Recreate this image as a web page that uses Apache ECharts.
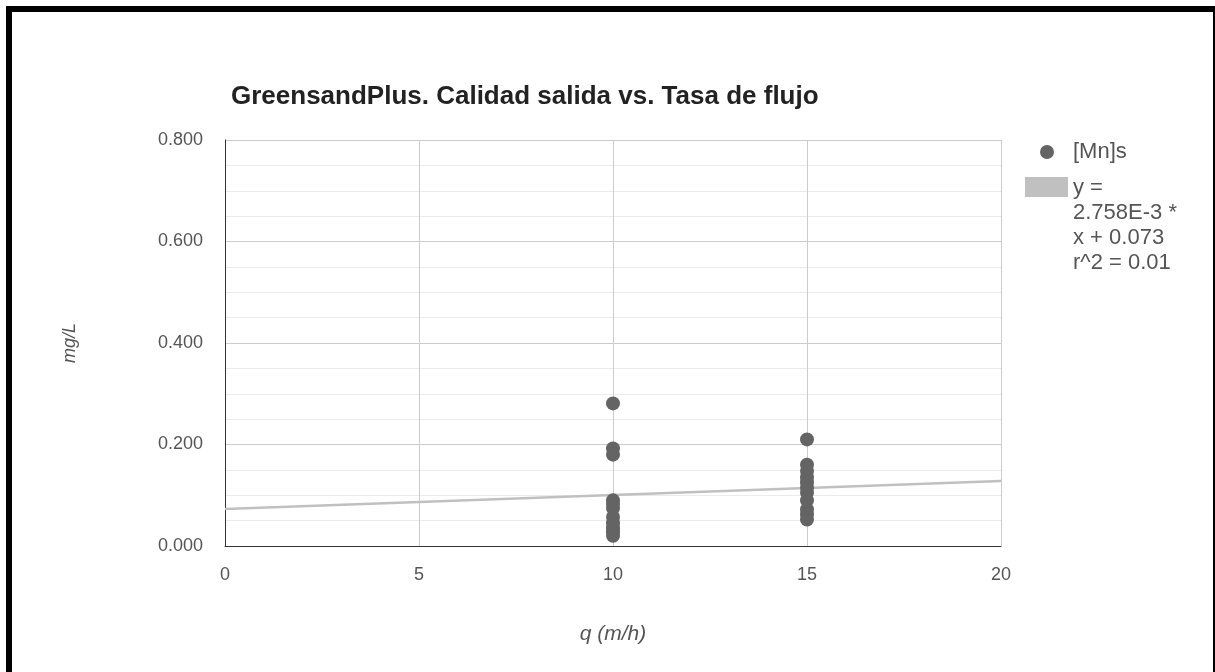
<!DOCTYPE html>
<html><head><meta charset="utf-8">
<script src="https://cdn.jsdelivr.net/npm/echarts@6/dist/echarts.min.js"></script>
<style>
html,body{margin:0;padding:0;background:#fff;}
#frame{position:absolute;left:6px;top:6px;width:1201px;height:700px;border-left:6px solid #000;border-top:6px solid #000;border-right:2px solid #000;}
#c{position:absolute;left:0;top:0;width:1215px;height:672px;}
</style></head>
<body>
<div id="frame"></div>
<div id="c"></div>
<script>
const chartTitle = 'GreensandPlus. Calidad salida vs. Tasa de flujo';
const xName = 'q (m/h)';
const yName = 'mg/L';
const seriesName = '[Mn]s';
const trendName = 'y = 2.758E-3 * x + 0.073 r^2 = 0.01';
const trendLegendLines = ['y =', '2.758E-3 *', 'x + 0.073', 'r^2 = 0.01'];
const xFlow = [10,10,10,10,10,10,10,10,10,10,10, 15,15,15,15,15,15,15,15,15,15,15];
const yMn = [0.281,0.192,0.180,0.090,0.083,0.075,0.057,0.045,0.035,0.027,0.020,
             0.210,0.160,0.148,0.135,0.125,0.115,0.105,0.090,0.072,0.062,0.052];
const trendX = [0, 20];
const trendY = [0.073, 0.128];
const yTicks = ['0.000','0.200','0.400','0.600','0.800'];

const chart = echarts.init(document.getElementById('c'));
const font = 'Arial, "Liberation Sans", sans-serif';
chart.setOption({
  animation: false,
  backgroundColor: 'transparent',
  title: {text: chartTitle, left: 226, top: 79,
    textStyle: {fontFamily: font, fontSize: 26, fontWeight: 'bold', color: '#222'}},
  grid: {left: 225, right: 214, top: 140, bottom: 126},
  xAxis: {type: 'value', min: 0, max: 20, interval: 5,
    name: xName, nameLocation: 'middle', nameGap: 78,
    nameTextStyle: {fontFamily: font, fontSize: 21, fontStyle: 'italic', color: '#555'},
    axisLine: {show: true, onZero: false, lineStyle: {color: '#333', width: 1}},
    axisTick: {show: false},
    axisLabel: {margin: 20, fontFamily: font, fontSize: 18, color: '#555'},
    splitLine: {show: true, lineStyle: {color: '#cccccc', width: 1}}},
  yAxis: {type: 'value', min: 0, max: 0.8, interval: 0.2,
    name: yName, nameLocation: 'middle', nameGap: 146, nameRotate: 90,
    nameTextStyle: {fontFamily: font, fontSize: 18, fontStyle: 'italic', color: '#555'},
    axisLine: {show: true, lineStyle: {color: '#333', width: 1}},
    axisTick: {show: false},
    axisLabel: {margin: 22, fontFamily: font, fontSize: 18, color: '#555',
      formatter: v => yTicks[Math.round(v / 0.2)]},
    splitLine: {show: true, lineStyle: {color: '#cccccc', width: 1}},
    minorTick: {show: false, splitNumber: 4},
    minorSplitLine: {show: true, lineStyle: {color: '#ebebeb', width: 1}}},
  series: [
    {name: trendName, type: 'line', data: trendX.map((x, i) => [x, trendY[i]]),
      symbol: 'none', lineStyle: {color: '#c0c0c0', width: 2.5}, z: 2},
    {name: seriesName, type: 'scatter', data: xFlow.map((x, i) => [x, yMn[i]]),
      symbolSize: 14, itemStyle: {color: '#646464', opacity: 1}, z: 3}
  ],
  graphic: [
    {type: 'circle', shape: {cx: 1047, cy: 152, r: 7}, style: {fill: '#646464'}},
    {type: 'text', left: 1073, top: 141, style: {text: seriesName, font: '22px ' + font, fill: '#555'}},
    {type: 'rect', shape: {x: 1025, y: 177, width: 43, height: 20}, style: {fill: '#c0c0c0'}},
    {type: 'text', left: 1073, top: 175, style: {text: trendLegendLines.join('\n'), font: '22px ' + font, fill: '#555', lineHeight: 25}}
  ]
});
</script>
</body></html>
